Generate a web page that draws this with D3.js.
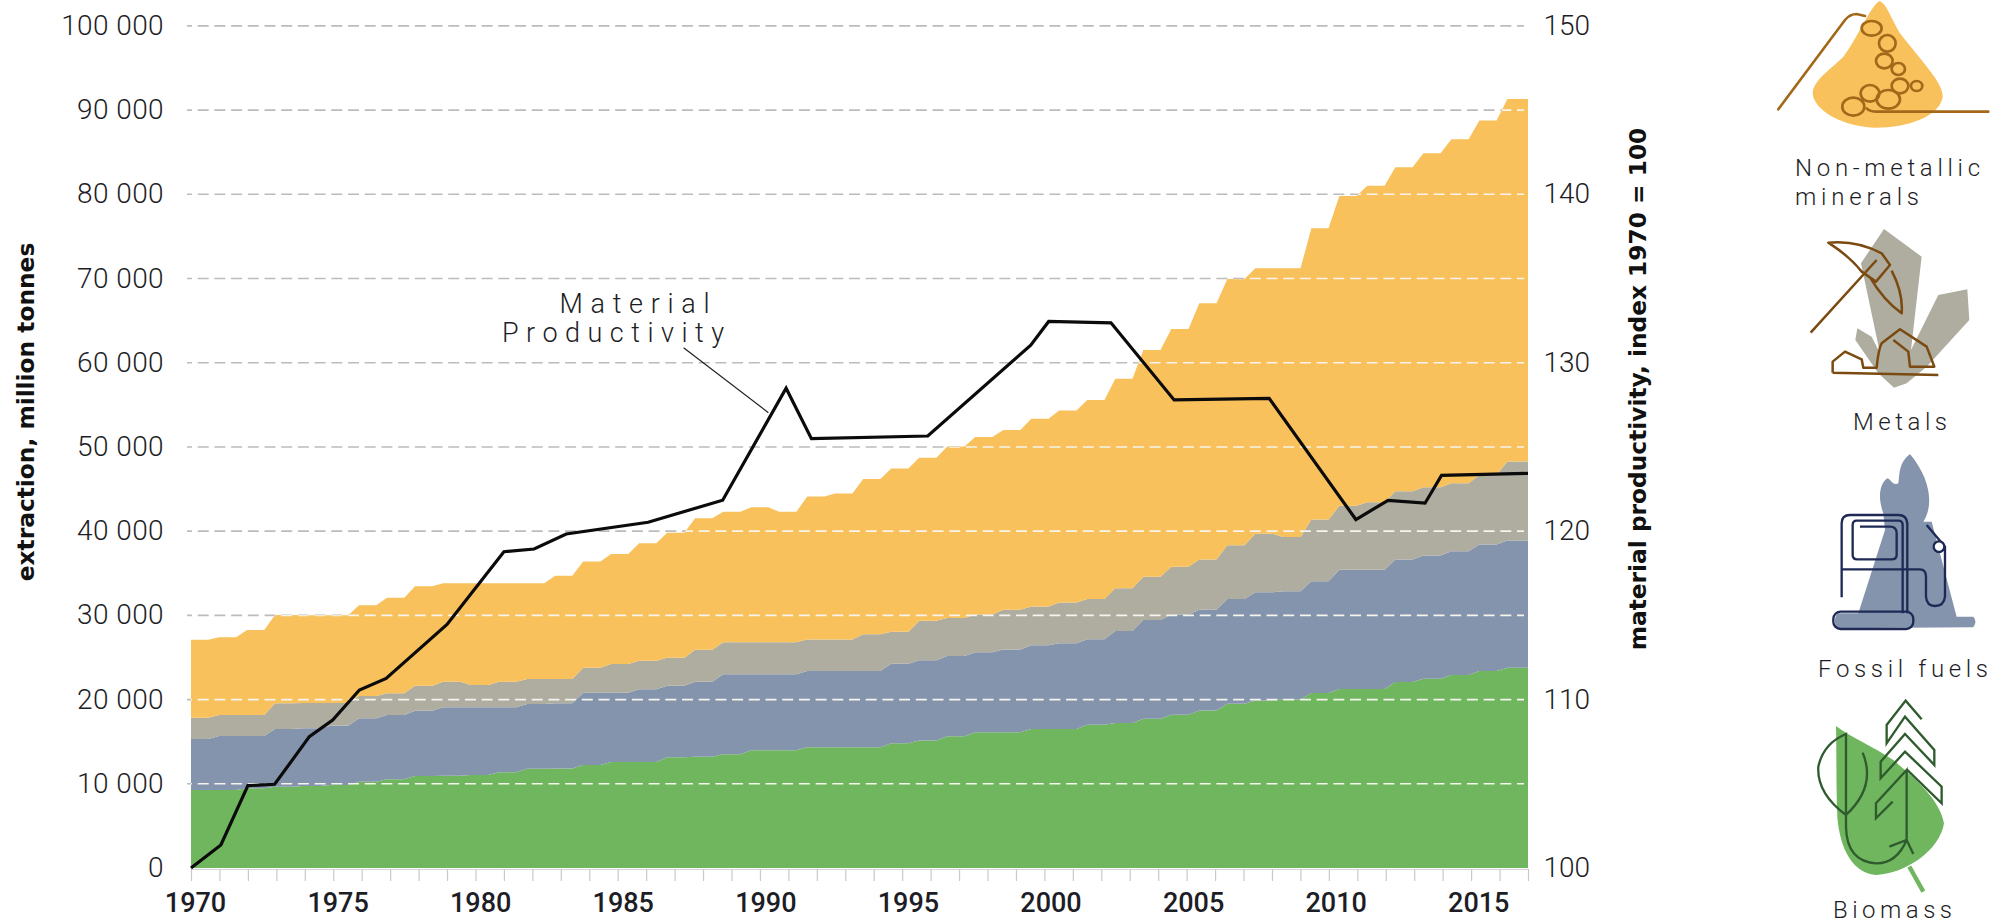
<!DOCTYPE html>
<html><head><meta charset="utf-8">
<script src="https://cdn.jsdelivr.net/npm/d3@7/dist/d3.min.js"></script>
<style>
html,body{margin:0;padding:0;background:#fff;overflow:hidden}
svg{display:block}
text{font-family:Roboto,sans-serif;fill:#1d1d25}
</style></head><body>
<svg id="c" width="2005" height="923"></svg>
<script>
// Upper edge of each stacked layer, million tonnes, 1970-2017
const years = d3.range(1970, 2018);
const biomassTop = [9260,9260,9460,9660,9740,9860,10250,10530,10930,10960,11050,11360,11790,11830,12230,12590,12590,13150,13220,13500,13990,13990,14330,14330,14330,14810,15150,15640,16130,16130,16510,16510,17000,17230,17720,18210,18700,19510,19900,20000,20780,21260,21260,22090,22470,22910,23390,23780];
const fossilTop = [15320,15680,15680,16510,16590,16900,17780,18170,18680,19080,19080,19080,19480,19560,20820,20820,21220,21650,22110,23000,23000,23000,23390,23390,23390,24260,24660,25190,25630,25960,26450,26680,27170,28150,29450,30090,30670,31930,32760,32850,34060,35420,35420,36630,37110,37600,38420,38900];
const metalsTop = [17850,18170,18170,19560,19600,19600,20430,20750,21650,22130,21730,22130,22450,22450,23790,24230,24620,24980,25920,26800,26800,26800,27130,27130,27760,28060,29360,29690,30090,30670,31060,31540,31930,33230,34600,35760,36630,38330,39680,39300,41370,43030,43420,44730,45210,45680,46660,48270];
const mineralsTop = [27100,27400,28260,30050,30000,30000,31200,32100,33450,33800,33800,33800,33800,34700,36400,37300,38550,39800,41530,42300,42830,42300,44120,44480,46180,47430,48730,50060,51180,52000,53350,54320,55580,58100,61510,64010,67070,69950,71220,71220,75960,79800,81030,83200,84870,86530,88760,91330];

// Material productivity polyline (fractional years as read from the vertices)
const prodYears = [1970,1971.05,1972,1972.94,1974.16,1974.98,1975.92,1976.86,1979,1981,1982.06,1983.19,1986.07,1988.69,1990.92,1991.81,1995.9,1999.52,2000.15,2002.34,2004.56,2007.9,2010.95,2012.08,2013.38,2013.96,2017];
const prodValues = [100,101.37,104.89,104.97,107.8,108.79,110.57,111.26,114.46,118.78,118.94,119.83,120.53,121.84,128.49,125.49,125.65,131.04,132.45,132.37,127.79,127.89,120.69,121.83,121.66,123.31,123.43];

const leftTicks = d3.range(0, 100001, 10000);
const rightTicks = [100,110,120,130,140,150];
const yearLabels = [1970,1975,1980,1985,1990,1995,2000,2005,2010,2015];
const colors = {minerals:"#f9c15b", metals:"#aeada0", fossil:"#8594ad", biomass:"#70b65f"};

const svg = d3.select("#c");
const x = d3.scaleLinear().domain([1970,2017]).range([191,1528]);
const stepX = d3.scaleLinear().domain([1970,2017]).range([191,1507.4]); // start of each year's plateau
const y = d3.scaleLinear().domain([0,100000]).range([868,25.9]);
const yR = d3.scaleLinear().domain([100,150]).range([868,25.9]);
const plateau = 17.2;

function stepped(lo, hi){
  const pts = [];
  years.forEach((yr,i)=>{
    const x0 = stepX(yr);
    const x1 = i===years.length-1 ? x(2017) : x0+plateau;
    pts.push({x:x0, lo:lo?lo[i]:0, hi:hi[i]});
    pts.push({x:x1, lo:lo?lo[i]:0, hi:hi[i]});
  });
  return pts;
}
const area = d3.area().x(d=>d.x).y0(d=>y(d.lo)).y1(d=>y(d.hi));

// grid under the areas
const dash = "11 5.7";
const gridG = svg.append("g");
gridG.selectAll("line").data(leftTicks.slice(1)).join("line")
  .attr("x1",187).attr("x2",1524).attr("y1",d=>y(d)).attr("y2",d=>y(d))
  .attr("stroke","#bcbcb9").attr("stroke-width",1.6).attr("stroke-dasharray",dash).attr("stroke-dashoffset",6);

// stacked layers
[[null,biomassTop,colors.biomass],[biomassTop,fossilTop,colors.fossil],[fossilTop,metalsTop,colors.metals],[metalsTop,mineralsTop,colors.minerals]]
 .forEach(([lo,hi,c])=>svg.append("path").attr("d",area(stepped(lo,hi))).attr("fill",c));

// white dashes where grid crosses the areas
svg.append("clipPath").attr("id","ac").append("path").attr("d",area(stepped(null,mineralsTop)));
svg.append("g").attr("clip-path","url(#ac)").selectAll("line").data(leftTicks.slice(1)).join("line")
  .attr("x1",187).attr("x2",1524).attr("y1",d=>y(d)).attr("y2",d=>y(d))
  .attr("stroke","#f6f4ee").attr("stroke-width",1.6).attr("stroke-dasharray",dash).attr("stroke-dashoffset",6);

// x axis ticks
const axisX = d3.axisBottom(x).tickValues(years).tickSize(12);
const gx = svg.append("g").attr("transform","translate(0,869)").call(axisX);
gx.selectAll("text").remove();
gx.selectAll("line").attr("stroke","#c9c9c9").attr("stroke-width",1.2);
gx.select(".domain").attr("stroke","#d5d5d5").attr("stroke-width",1);
svg.append("g").selectAll("text").data(yearLabels).join("text")
  .attr("x",d=>x(d)+4.5+(d-1970)*0.07).attr("y",912).attr("text-anchor","middle")
  .style("font-size","27px").style("font-weight",500).text(d=>d);

// y labels
const fmt = d=>d===0?"0":`${Math.floor(d/1000)} 000`;
svg.append("g").selectAll("text").data(leftTicks).join("text")
  .attr("x",164).attr("y",d=>y(d)+9).attr("text-anchor","end")
  .style("font-size","28px").style("font-weight",300).style("letter-spacing","0.4px").text(fmt);
svg.append("g").selectAll("text").data(rightTicks).join("text")
  .attr("x",1590).attr("y",d=>yR(d)+9).attr("text-anchor","end")
  .style("font-size","28px").style("font-weight",300).text(d=>d);

// axis titles
svg.append("text").attr("transform","translate(34,412) rotate(-90)").attr("text-anchor","middle")
  .style("font-family","'DejaVu Sans'").style("font-weight",700).style("font-size","23.3px").style("fill","#111").text("extraction, million tonnes");
svg.append("text").attr("transform","translate(1646,389) rotate(-90)").attr("text-anchor","middle")
  .style("font-family","'DejaVu Sans'").style("font-weight",700).style("font-size","23.3px").style("fill","#111").text("material productivity, index 1970 = 100");

// productivity line
const line = d3.line().x((d,i)=>x(prodYears[i])).y(d=>yR(d));
svg.append("path").attr("d",line(prodValues)).attr("fill","none").attr("stroke","#0b0b0b").attr("stroke-width",3.2).attr("stroke-linejoin","miter");

// annotation
svg.append("line").attr("x1",683.6).attr("y1",347.7).attr("x2",768.4).attr("y2",412.7).attr("stroke","#222").attr("stroke-width",1.2);
function label(t,xx,yy,w,fs){
  svg.append("text").attr("x",xx).attr("y",yy).attr("textLength",w).attr("lengthAdjust","spacing")
    .style("font-size",fs+"px").style("font-weight",300).text(t);
}
label("Material",559.5,313,150,27);
label("Productivity",502,342,222,27);
label("Non-metallic",1795,175.5,185,24);
label("minerals",1795,205,124,24);
label("Metals",1853,430,94,24);
label("Fossil fuels",1818,676.5,170,24);
label("Biomass",1833,917.5,119,24);

// icons: drawn in 3x crop coordinates
const ic1 = svg.append("g").attr("transform","translate(1750,0) scale(0.3333)");
ic1.append("path").attr("fill",colors.minerals).attr("d","M388 3C410 10 420 50 450 100C520 190 580 250 578 290C570 350 470 383 380 383C280 383 190 330 188 280C190 240 240 210 280 170C320 120 360 20 388 3Z");
const b1 = ic1.append("g").attr("fill","none").attr("stroke","#a3681a").attr("stroke-width",8);
b1.append("path").attr("d","M85 328L285 60Q300 42 320 42L345 48M350 325Q360 335 380 335L715 335").attr("stroke-linecap","round");
[[365,85,30,22],[412,130,25,25],[403,183,25,22],[445,207,20,18],[450,258,25,22],[500,258,17,15],[360,280,28,25],[415,298,35,28],[310,320,33,27]]
 .forEach(e=>b1.append("ellipse").attr("cx",e[0]).attr("cy",e[1]).attr("rx",e[2]).attr("ry",e[3]));

const ic2 = svg.append("g").attr("transform","translate(1750,0) scale(0.3333)");
ic2.append("path").attr("fill",colors.metals).attr("d","M402 687L515 770L483 1050L565 885L652 868L658 960L530 1100L470 1150L432 1163L385 1120L316 1020L322 985L365 1010L390 1060L333 790Z");
ic2.append("path").attr("fill","none").attr("stroke","#7a4a10").attr("stroke-width",7.5).attr("stroke-linejoin","round")
  .attr("d","M235 728Q320 720 395 760L420 795L378 845L335 815Q300 770 235 728ZM182 998L380 780M425 812Q460 880 455 940Q400 900 360 832M248 1118L248 1085L285 1055L335 1078L340 1103L380 1103Q385 1050 395 1030L450 988L530 1040L553 1100L480 1100L475 1055L430 1020M248 1118L565 1125");

const ic3 = svg.append("g").attr("transform","translate(1750,450) scale(0.3333)");
ic3.append("path").attr("fill",colors.fossil).attr("d","M480 12C445 40 450 70 445 100C430 110 420 85 412 85C385 105 385 150 400 190L405 240L325 490L262 490Q248 510 260 535L670 532Q683 515 670 500L620 500L545 215L520 215C550 170 545 90 480 12Z");
const n3 = ic3.append("g").attr("fill","none").attr("stroke","#1e2a55").attr("stroke-width",7);
n3.append("path").attr("d","M275 442L275 220Q275 195 300 195L445 195Q470 195 472 220L472 490M330 230L420 230Q440 230 440 250L440 315Q440 328 425 328L322 328Q308 328 308 315L308 225Q308 212 320 212L445 212Q458 212 458 225L458 490M275 358L510 358Q528 358 528 380L528 440Q530 468 555 468Q582 468 585 440L585 290L530 225");
n3.append("rect").attr("x",250).attr("y",485).attr("width",240).attr("height",52).attr("rx",22);
n3.append("circle").attr("cx",567).attr("cy",290).attr("r",16).attr("fill","#fff");

const ic4 = svg.append("g").attr("transform","translate(1750,450) scale(0.3333)");
ic4.append("path").attr("fill",colors.biomass).attr("d","M258 828C260 900 258 1000 262 1100C270 1200 310 1270 380 1275C470 1270 570 1200 582 1120C570 1050 500 990 430 930C370 890 300 860 258 828Z");
ic4.append("path").attr("stroke",colors.biomass).attr("stroke-width",13).attr("d","M478 1250L520 1325");
ic4.append("path").attr("fill","none").attr("stroke","#2f5c2e").attr("stroke-width",7)
  .attr("d","M288 1095Q200 1030 205 950Q220 880 288 852L288 1130Q290 1235 380 1240Q440 1240 470 1170L470 960L378 1060L378 1105L428 1055M418 1190L470 1170L490 1212M338 908Q380 1010 288 1095M470 958L575 1060L575 1010L465 905L392 985L392 935L465 852L553 945L553 900L465 800L410 880L410 825L467 752L515 808");
</script>
</body></html>
